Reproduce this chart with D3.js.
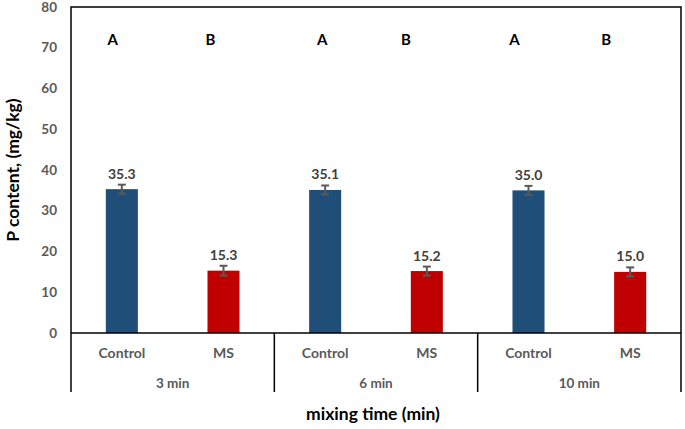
<!DOCTYPE html>
<html>
<head>
<meta charset="utf-8">
<script src="https://cdn.jsdelivr.net/npm/d3@7"></script>
<style>
	body { margin: 0; background: #fff; }
	svg text { font-family: Lato, "Noto Sans", sans-serif; font-weight: bold; }
</style>
</head>
<body>
<div id="chart"></div>
<script>
	// chart values
	var groups = ["3 min", "6 min", "10 min"],
		treatments = ["Control", "MS"],
		values = [35.3, 15.3, 35.1, 15.2, 35.0, 15.0],
		errors = [1.1, 1.2, 1.1, 1.1, 1.1, 1.1],
		letters = ["A", "B", "A", "B", "A", "B"],
		yTicks = [0, 10, 20, 30, 40, 50, 60, 70, 80];

	// letters sit a little left of their bars in the original
	var letterShift = [-9, -13, -3, -21, -14, -24];

	var width = 685, height = 429,
		margin = {top: 7, right: 4, bottom: 96, left: 71},
		plotW = width - margin.left - margin.right,
		plotH = height - margin.top - margin.bottom;

	var colors = {Control: "#1f4e79", MS: "#c00000"};

	var rows = [];
	groups.forEach(function(g, gi) {
		treatments.forEach(function(t, ti) {
			var i = gi * treatments.length + ti;
			rows.push({key: g + "|" + t, group: g, treatment: t,
				value: values[i], err: errors[i], letter: letters[i], shift: letterShift[i]});
		});
	});

	var svg = d3.select("#chart").append("svg")
		.attr("width", width).attr("height", height);

	var g = svg.append("g").attr("transform", "translate(" + margin.left + "," + margin.top + ")");

	var x = d3.scaleBand().domain(rows.map(function(d) { return d.key; }))
		.range([0, plotW]).paddingInner(0.685).paddingOuter(0.3425);
	var xGroup = d3.scaleBand().domain(groups).range([0, plotW]);
	var y = d3.scaleLinear().domain([0, 80]).range([plotH, 0]);

	// y tick labels (no tick marks)
	g.selectAll(".ytick").data(yTicks).enter().append("text")
		.attr("x", -14).attr("y", function(d) { return y(d); })
		.attr("dy", "0.35em").attr("text-anchor", "end")
		.style("font-size", "13.5px").style("fill", "#595959")
		.text(function(d) { return d; });

	// bars
	g.selectAll("rect.bar").data(rows).enter().append("rect")
		.attr("class", "bar")
		.attr("x", function(d) { return x(d.key); })
		.attr("y", function(d) { return y(d.value); })
		.attr("width", x.bandwidth())
		.attr("height", function(d) { return plotH - y(d.value); })
		.style("fill", function(d) { return colors[d.treatment]; });

	// error bars
	var eb = g.selectAll("g.err").data(rows).enter().append("g")
		.attr("transform", function(d) { return "translate(" + (x(d.key) + x.bandwidth() / 2) + ",0)"; })
		.style("stroke", "#595959").style("stroke-width", 2);
	eb.append("line")
		.attr("y1", function(d) { return y(d.value + d.err); })
		.attr("y2", function(d) { return y(d.value - d.err); });
	eb.append("line").attr("x1", -4).attr("x2", 4)
		.attr("y1", function(d) { return y(d.value + d.err); })
		.attr("y2", function(d) { return y(d.value + d.err); });
	eb.append("line").attr("x1", -4).attr("x2", 4)
		.attr("y1", function(d) { return y(d.value - d.err); })
		.attr("y2", function(d) { return y(d.value - d.err); });

	// value labels
	g.selectAll("text.val").data(rows).enter().append("text")
		.attr("x", function(d) { return x(d.key) + x.bandwidth() / 2; })
		.attr("y", function(d) { return y(d.value + d.err) - 6; })
		.attr("text-anchor", "middle")
		.style("font-size", "14px").style("fill", "#404040")
		.text(function(d) { return d.value.toFixed(1); });

	// significance letters
	g.selectAll("text.letter").data(rows).enter().append("text")
		.attr("x", function(d) { return x(d.key) + x.bandwidth() / 2 + d.shift; })
		.attr("y", y(72))
		.attr("dy", "0.35em").attr("text-anchor", "middle")
		.style("font-size", "15px").style("fill", "#000")
		.text(function(d) { return d.letter; });

	// frame
	g.append("path")
		.attr("d", "M0," + plotH + "V0H" + plotW + "V" + (plotH + 59))
		.style("fill", "none").style("stroke", "#000").style("stroke-width", 1.5);
	g.append("line").attr("x1", 0).attr("x2", plotW).attr("y1", plotH).attr("y2", plotH)
		.style("stroke", "#000").style("stroke-width", 1.5);

	// group separators under the axis
	g.selectAll("line.sep").data(groups).enter().append("line")
		.attr("x1", function(d) { return xGroup(d); }).attr("x2", function(d) { return xGroup(d); })
		.attr("y1", plotH).attr("y2", plotH + 59)
		.style("stroke", "#000").style("stroke-width", 1.5);

	// category labels
	g.selectAll("text.cat").data(rows).enter().append("text")
		.attr("x", function(d) { return x(d.key) + x.bandwidth() / 2; })
		.attr("y", plotH + 20).attr("dy", "0.35em").attr("text-anchor", "middle")
		.style("font-size", "14px").style("fill", "#595959")
		.text(function(d) { return d.treatment; });

	g.selectAll("text.grp").data(groups).enter().append("text")
		.attr("x", function(d) { return xGroup(d) + xGroup.bandwidth() / 2; })
		.attr("y", plotH + 50).attr("dy", "0.35em").attr("text-anchor", "middle")
		.style("font-size", "13.5px").style("fill", "#595959")
		.text(function(d) { return d; });

	// axis titles
	svg.append("text")
		.attr("x", margin.left + plotW / 2 - 3).attr("y", 414)
		.attr("dy", "0.35em").attr("text-anchor", "middle")
		.style("font-size", "17.5px").style("fill", "#000")
		.text("mixing time (min)");

	svg.append("text")
		.attr("transform", "translate(13," + (margin.top + plotH / 2) + ") rotate(-90)")
		.attr("dy", "0.35em").attr("text-anchor", "middle")
		.style("font-size", "17.5px").style("fill", "#000")
		.text("P content, (mg/kg)");
</script>
</body>
</html>
